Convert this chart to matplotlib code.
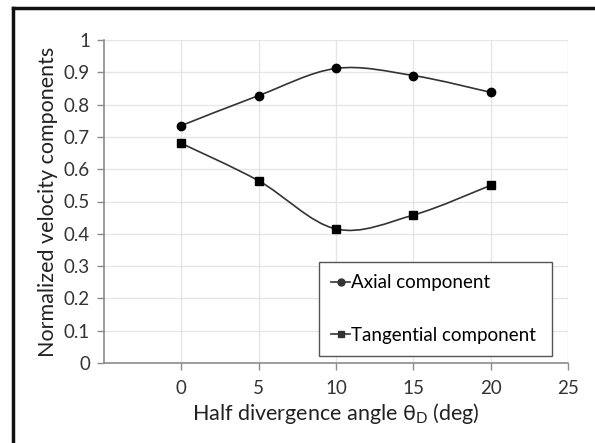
import numpy as np
import matplotlib
matplotlib.use("Agg")
import matplotlib.pyplot as plt
from matplotlib.path import Path
from matplotlib.patches import PathPatch
from matplotlib.lines import Line2D

plt.rcParams['font.family'] = ['Lato', 'DejaVu Sans']

angle = [0, 5, 10, 15, 20]
axial = [0.735, 0.828, 0.912, 0.890, 0.838]
tangential = [0.680, 0.564, 0.415, 0.458, 0.550]
x_ticks = [0, 5, 10, 15, 20, 25]
y_ticks = [0, 0.1, 0.2, 0.3, 0.4, 0.5, 0.6, 0.7, 0.8, 0.9, 1]


def smooth_path(x, y):
    # Excel-like smoothed line: Catmull-Rom segments as cubic Bezier curves
    p = np.column_stack([x, y]).astype(float)
    verts = [p[0]]
    codes = [Path.MOVETO]
    n = len(p)
    for i in range(n - 1):
        p0 = p[i - 1] if i > 0 else p[i]
        p3 = p[i + 2] if i + 2 < n else p[i + 1]
        c1 = p[i] + (p[i + 1] - p0) / 6
        c2 = p[i + 1] - (p3 - p[i]) / 6
        verts += [c1, c2, p[i + 1]]
        codes += [Path.CURVE4] * 3
    return Path(verts, codes)


fig = plt.figure(figsize=(5.95, 4.43), dpi=100)
ax = fig.add_axes([104 / 595, 1 - 363 / 443, (568 - 104) / 595, (363 - 40) / 443])

for ys, mk, lab in [(axial, 'o', 'Axial component'),
                    (tangential, 's', 'Tangential component')]:
    ax.add_patch(PathPatch(smooth_path(angle, ys), facecolor='none',
                           edgecolor='#333333', lw=1.2, zorder=3))
    ax.plot(angle, ys, ls='none', marker=mk, ms=6, color='black', zorder=4)

ax.set_xlim(-5, 25)
ax.set_ylim(0, 1)
ax.set_xticks(x_ticks)
ax.set_xticklabels([str(v) for v in x_ticks])
ax.set_yticks(y_ticks)
ax.set_yticklabels(['0', '0.1', '0.2', '0.3', '0.4', '0.5', '0.6', '0.7', '0.8', '0.9', '1'])
ax.grid(True, color='#e6e6e6', lw=1)
ax.set_axisbelow(True)
for s in ['top', 'right']:
    ax.spines[s].set_visible(False)
for s in ['left', 'bottom']:
    ax.spines[s].set_color('#8c8c8c')
    ax.spines[s].set_linewidth(1.2)
ax.tick_params(axis='both', colors='#8c8c8c', length=5, width=1, labelsize=13.5,
               labelcolor='#333333')
ax.tick_params(axis='x', pad=7)
ax.tick_params(axis='y', pad=5)

ax.set_xlabel(r'Half divergence angle $\mathregular{\theta_D}$ (deg)', fontsize=15.5,
              color='#222222', labelpad=3)
ax.set_ylabel('Normalized velocity components', fontsize=15.5, color='#222222',
              labelpad=4)

handles = [Line2D([], [], color='#333333', marker='o', ms=5, lw=1.2),
           Line2D([], [], color='#333333', marker='s', ms=5, lw=1.2)]
leg = ax.legend(handles, ['Axial component', 'Tangential component'],
                loc='lower left', bbox_to_anchor=(319 / 595, 1 - 356 / 443, (552 - 319) / 595, (356 - 257) / 443),
                bbox_transform=fig.transFigure, mode='expand', fancybox=False,
                framealpha=1, edgecolor='#555555', fontsize=13.5, handlelength=1.0,
                handletextpad=0.05, labelspacing=1.9, borderpad=0.65, borderaxespad=0)
leg.get_frame().set_linewidth(1.0)

fig.add_artist(Line2D([13 / 595, 13 / 595], [0, 1 - 8 / 443], color='#111111', lw=2.5))
fig.add_artist(Line2D([13 / 595, 1], [1 - 8 / 443, 1 - 8 / 443], color='#111111', lw=2.5))

fig.savefig('out.png', dpi=100, facecolor='white')
